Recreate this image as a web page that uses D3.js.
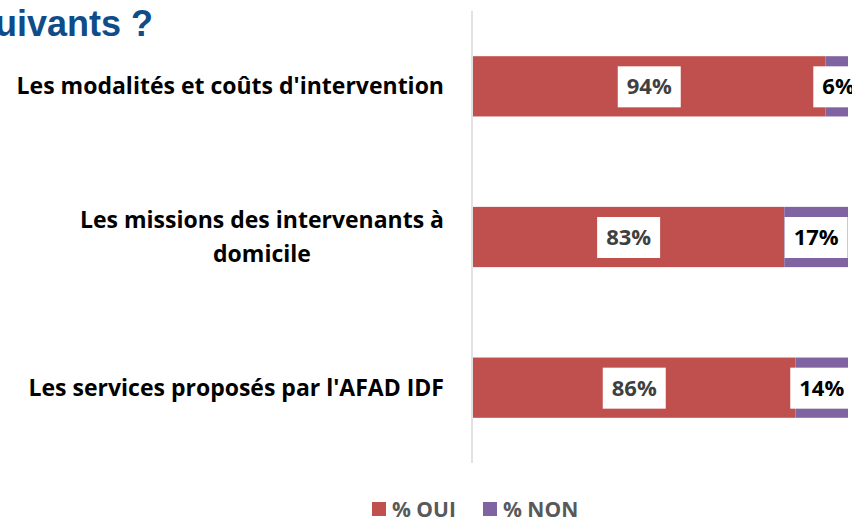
<!DOCTYPE html>
<html>
<head>
<meta charset="utf-8">
<script src="https://cdn.jsdelivr.net/npm/d3@7"></script>
<style>
  html, body { margin: 0; padding: 0; background: #fff; overflow: hidden; }
  svg { display: block; }
</style>
</head>
<body>
<div id="app"></div>
<script>
// données
const categories = [
  ["Les modalités et coûts d'intervention"],
  ['Les missions des intervenants à', 'domicile'],
  ["Les services proposés par l'AFAD IDF"]
]
const oui = [94, 83, 86]
const non = [6, 17, 14]
const seriesNames = ['% OUI', '% NON']
const seriesColors = ['#c0504d', '#8064a2']

const w = 852
const h = 526
const labelFont = '"Open Sans", "Noto Sans", sans-serif'

const svg = d3.select('#app')
  .append('svg')
  .attr('width', w)
  .attr('height', h)

// titre (coupé à gauche comme sur l'original)
svg.append('text')
  .attr('x', 153)
  .attr('y', 36)
  .attr('text-anchor', 'end')
  .attr('font-family', '"Liberation Sans", Arial, sans-serif')
  .attr('font-weight', 'bold')
  .attr('font-size', 36)
  .attr('fill', '#0f4c8a')
  .text('suivants ?')

// échelles
const x = d3.scaleLinear()
  .domain([0, 100])
  .range([473, 848])

const y = d3.scaleBand()
  .domain(d3.range(categories.length))
  .range([11, 463])
  .paddingInner(0.6)
  .paddingOuter(0.3)

// axe vertical
svg.append('line')
  .attr('x1', 472).attr('x2', 472)
  .attr('y1', 11).attr('y2', 463)
  .attr('stroke', '#d9d9d9')
  .attr('stroke-width', 1.5)

const rows = categories.map((c, i) => ({ i, oui: oui[i], non: non[i] }))

const g = svg.append('g')

// barres OUI
g.selectAll('rect.oui')
  .data(rows)
  .enter()
  .append('rect')
  .attr('class', 'oui')
  .attr('x', x(0))
  .attr('y', d => y(d.i))
  .attr('width', d => x(d.oui) - x(0))
  .attr('height', y.bandwidth())
  .attr('fill', seriesColors[0])

// barres NON
g.selectAll('rect.non')
  .data(rows)
  .enter()
  .append('rect')
  .attr('class', 'non')
  .attr('x', d => x(d.oui))
  .attr('y', d => y(d.i))
  .attr('width', d => x(d.oui + d.non) - x(d.oui))
  .attr('height', y.bandwidth())
  .attr('fill', seriesColors[1])

// étiquettes de valeur
function valueLabel(cx, cy, txt, color) {
  const lg = g.append('g')
  const t = lg.append('text')
    .attr('x', cx)
    .attr('y', cy + 8)
    .attr('text-anchor', 'middle')
    .attr('font-family', labelFont)
    .attr('font-weight', 'bold')
    .attr('font-size', 22)
    .attr('fill', color)
    .text(txt)
  const bw = t.node().getComputedTextLength() + 18
  lg.insert('rect', 'text')
    .attr('x', cx - bw / 2)
    .attr('y', cy - 20)
    .attr('width', bw)
    .attr('height', 41)
    .attr('fill', '#fff')
}

rows.forEach(d => {
  const cy = y(d.i) + y.bandwidth() / 2
  valueLabel((x(0) + x(d.oui)) / 2, cy, d.oui + '%', '#404040')
  let cx = (x(d.oui) + x(d.oui + d.non)) / 2
  if (d.non < 10) cx = x(d.oui) + 13
  valueLabel(cx, cy, d.non + '%', '#000')
})

// libellés des catégories
categories.forEach((lines, i) => {
  const cy = y(i) + y.bandwidth() / 2
  const t = svg.append('text')
    .attr('font-family', labelFont)
    .attr('font-weight', 'bold')
    .attr('font-size', 23)
    .attr('fill', '#000')
    .attr('text-anchor', 'middle')
  lines.forEach((l, j) => {
    t.append('tspan')
      .attr('x', 0)
      .attr('y', cy + 8 + (j - (lines.length - 1) / 2) * 34)
      .text(l)
  })
  // bloc aligné à droite, lignes centrées entre elles
  const bw = t.node().getBBox().width
  t.selectAll('tspan').attr('x', 444 - bw / 2)
})

// légende
const legend = svg.append('g')
  .attr('id', 'legend')
const legendX = [372, 483]
seriesNames.forEach((s, i) => {
  legend.append('rect')
    .attr('x', legendX[i])
    .attr('y', 502)
    .attr('width', 14)
    .attr('height', 14)
    .attr('fill', seriesColors[i])
  legend.append('text')
    .attr('x', legendX[i] + 20)
    .attr('y', 517)
    .attr('font-family', labelFont)
    .attr('font-weight', 'bold')
    .attr('font-size', 21)
    .attr('fill', '#595959')
    .text(s)
})
</script>
</body>
</html>
